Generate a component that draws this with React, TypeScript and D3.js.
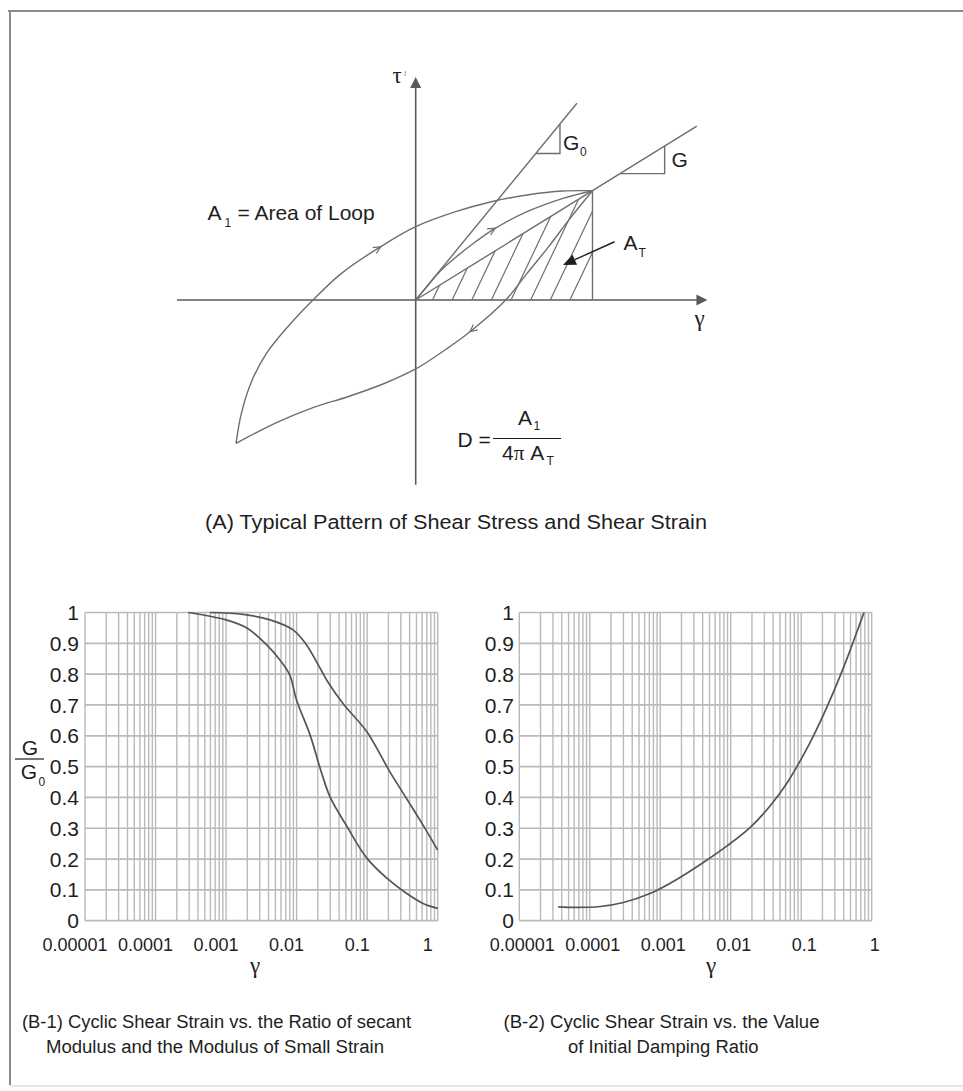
import React from 'react';
import * as d3 from 'd3';

type Pt = [number, number];

// ---------- (A) stress–strain loop, normalised so the reversal point is (1, 1)
const loopUpperBranch: Pt[] = [
  [-1.016, -1.311], [-0.986, -1.037], [-0.925, -0.732], [-0.844, -0.488],
  [-0.723, -0.244], [-0.581, 0], [-0.42, 0.244], [-0.198, 0.488],
  [0, 0.671], [0.226, 0.808], [0.428, 0.899], [0.63, 0.961], [0.833, 0.997], [1, 1],
];
const loopLowerBranch: Pt[] = [
  [1, 1], [0.873, 0.747], [0.752, 0.488], [0.63, 0.244], [0.509, 0],
  [0.307, -0.29], [0.145, -0.48], [0, -0.631], [-0.178, -0.764],
  [-0.38, -0.883], [-0.581, -0.985], [-0.784, -1.12], [-1.016, -1.311],
];
const initialLoading: Pt[] = [
  [0, 0], [0.064, 0.122], [0.145, 0.274], [0.327, 0.519], [0.449, 0.656],
  [0.63, 0.808], [0.833, 0.93], [1, 1],
];
const tangentG0: Pt[] = [[0, 0], [0.912, 1.8]];
const secantG: Pt[] = [[0, 0], [1.59, 1.59]];
const slopeTriangleG0: Pt[] = [[0.68, 1.34], [0.816, 1.34], [0.816, 1.607]];
const slopeTriangleG: Pt[] = [[1.156, 1.156], [1.408, 1.156], [1.408, 1.408]];
const peakDrop: Pt[] = [[1, 1], [1, 0]];
const triangleAT: Pt[] = [[0, 0], [1, 1], [1, 0]];
const hatchBases = [0.095, 0.206, 0.317, 0.428, 0.539, 0.65, 0.761, 0.872];
const hatchSlope = 3.4;
const gammaAxisExtent: Pt = [-1.35, 1.65];
const tauAxisExtent: Pt = [-1.69, 2.04];
const pointerAT: Pt[] = [[1.125, 0.533], [0.833, 0.32]];

// ---------- (B) cyclic shear strain curves
const strainDecades = [0.00001, 0.0001, 0.001, 0.01, 0.1, 1];
const strainLabels = ['0.00001', '0.0001', '0.001', '0.01', '0.1', '1'];
const ratioTicks = [0, 0.1, 0.2, 0.3, 0.4, 0.5, 0.6, 0.7, 0.8, 0.9, 1];
const ratioLabels = ['0', '0.1', '0.2', '0.3', '0.4', '0.5', '0.6', '0.7', '0.8', '0.9', '1'];

const modulusRatioUpper: Pt[] = [
  [0.00059, 1.0], [0.00175, 0.994], [0.0042, 0.976], [0.009, 0.943], [0.0139, 0.894],
  [0.0192, 0.84], [0.0282, 0.772], [0.046, 0.703], [0.099, 0.613], [0.21, 0.483],
  [0.36, 0.397], [0.62, 0.31], [1.0, 0.229],
];
const modulusRatioLower: Pt[] = [
  [0.00029, 1.0], [0.001, 0.976], [0.002, 0.949], [0.0038, 0.894], [0.0058, 0.846],
  [0.008, 0.797], [0.01, 0.715], [0.0155, 0.603], [0.0227, 0.478], [0.03, 0.4],
  [0.051, 0.308], [0.099, 0.203], [0.19, 0.138], [0.36, 0.089], [0.62, 0.056], [1.0, 0.04],
];
const dampingRatio: Pt[] = [
  [0.0000357, 0.045], [0.000065, 0.043], [0.00014, 0.046], [0.0003, 0.059], [0.000714, 0.088],
  [0.00171, 0.134], [0.00408, 0.189], [0.00877, 0.242], [0.01875, 0.302], [0.0361, 0.372],
  [0.0622, 0.445], [0.1334, 0.578], [0.2056, 0.667], [0.3184, 0.767], [0.4415, 0.848],
  [0.612, 0.935], [0.778, 1.0],
];

const SANS = "'Liberation Sans', Arial, Helvetica, sans-serif";
const SERIF = "'Liberation Serif', 'DejaVu Serif', 'Times New Roman', serif";
const INK = '#1e1e1e';
const LINE = '#6e6e6e';
const AXIS = '#5a5a5a';
const GRID = '#bababa';

function chevron(pts: Pt[], i: number, px: (p: Pt) => Pt): string {
  const [x, y] = px(pts[i]);
  const [x0, y0] = px(pts[i - 1]);
  const [x1, y1] = px(pts[i + 1]);
  const a = Math.atan2(y1 - y0, x1 - x0);
  const len = 8;
  const spread = 0.45;
  const p1 = [x - len * Math.cos(a - spread), y - len * Math.sin(a - spread)];
  const p2 = [x - len * Math.cos(a + spread), y - len * Math.sin(a + spread)];
  return `M${p1[0]},${p1[1]}L${x},${y}L${p2[0]},${p2[1]}`;
}

function LoopDiagram() {
  const xA = d3.scaleLinear().domain([0, 1]).range([415.7, 592.5]);
  const yA = d3.scaleLinear().domain([0, 1]).range([300, 190.7]);
  const px = (p: Pt): Pt => [xA(p[0]), yA(p[1])];
  const smooth = d3.line<Pt>().x(d => xA(d[0])).y(d => yA(d[1])).curve(d3.curveCatmullRom.alpha(0.5));
  const straight = d3.line<Pt>().x(d => xA(d[0])).y(d => yA(d[1]));

  const gx0 = xA(gammaAxisExtent[0]);
  const gx1 = xA(gammaAxisExtent[1]);
  const ty0 = yA(tauAxisExtent[0]);
  const ty1 = yA(tauAxisExtent[1]);
  const ox = xA(0);
  const oy = yA(0);

  const [ptx, pty] = px(pointerAT[1]);
  const [psx, psy] = px(pointerAT[0]);
  const pa = Math.atan2(pty - psy, ptx - psx);
  const headLen = 13;
  const headW = 5.5;
  const bx = ptx - headLen * Math.cos(pa);
  const by = pty - headLen * Math.sin(pa);
  const head = `M${ptx},${pty}L${bx + headW * Math.sin(pa)},${by - headW * Math.cos(pa)}L${bx - headW * Math.sin(pa)},${by + headW * Math.cos(pa)}Z`;

  return (
    <g>
      <defs>
        <clipPath id="at-clip">
          <path d={straight(triangleAT) + 'Z'} />
        </clipPath>
      </defs>
      {/* axes */}
      <line x1={gx0} y1={oy} x2={gx1 - 8} y2={oy} stroke={AXIS} strokeWidth={1.6} />
      <path d={`M${gx1},${oy}L${gx1 - 11},${oy - 5.5}L${gx1 - 11},${oy + 5.5}Z`} fill={AXIS} />
      <line x1={ox} y1={ty0} x2={ox} y2={ty1 + 8} stroke={AXIS} strokeWidth={1.6} />
      <path d={`M${ox},${ty1}L${ox - 5.5},${ty1 + 11}L${ox + 5.5},${ty1 + 11}Z`} fill={AXIS} />

      {/* hatched triangle under the secant */}
      <g clipPath="url(#at-clip)">
        {hatchBases.map((b, i) => (
          <path key={i} d={straight([[b, 0], [b + 1.3 / hatchSlope, 1.3]])} stroke={LINE} strokeWidth={1.2} fill="none" />
        ))}
      </g>
      <path d={straight(peakDrop)} stroke={LINE} strokeWidth={1.4} fill="none" />

      {/* moduli */}
      <path d={straight(tangentG0)} stroke={LINE} strokeWidth={1.4} fill="none" />
      <path d={straight(secantG)} stroke={LINE} strokeWidth={1.4} fill="none" />
      <path d={straight(slopeTriangleG0)} stroke={LINE} strokeWidth={1.4} fill="none" />
      <path d={straight(slopeTriangleG)} stroke={LINE} strokeWidth={1.4} fill="none" />

      {/* loop */}
      <path d={smooth(loopUpperBranch) || ''} stroke={LINE} strokeWidth={1.4} fill="none" />
      <path d={smooth(loopLowerBranch) || ''} stroke={LINE} strokeWidth={1.4} fill="none" />
      <path d={smooth(initialLoading) || ''} stroke={LINE} strokeWidth={1.4} fill="none" />
      <path d={chevron(loopUpperBranch, 7, px)} stroke={LINE} strokeWidth={1.2} fill="none" />
      <path d={chevron(initialLoading, 4, px)} stroke={LINE} strokeWidth={1.2} fill="none" />
      <path d={chevron(loopLowerBranch, 5, px)} stroke={LINE} strokeWidth={1.2} fill="none" />

      {/* A_T pointer */}
      <line x1={psx} y1={psy} x2={bx} y2={by} stroke={INK} strokeWidth={1.4} />
      <path d={head} fill={INK} />

      {/* labels */}
      <g fill={INK} fontFamily={SANS} fontSize={21}>
        <text x={392.5} y={83} fontFamily={SERIF} fontSize={23}>τ</text>
        <line x1={405.5} y1={71} x2={405} y2={76} stroke="#999" strokeWidth={1} />
        <text x={694.5} y={326} fontFamily={SERIF} fontSize={23}>γ</text>
        <text x={207.5} y={220}>A</text>
        <text x={224.5} y={226.5} fontSize={12}>1</text>
        <text x={237.5} y={220}>= Area of Loop</text>
        <text x={563} y={150}>G</text>
        <text x={580} y={155.5} fontSize={12}>0</text>
        <text x={671.5} y={166.5}>G</text>
        <text x={623.5} y={250}>A</text>
        <text x={638.5} y={257} fontSize={12}>T</text>
        <text x={457.5} y={446.5}>D =</text>
        <text x={518} y={425}>A</text>
        <text x={533.5} y={430} fontSize={12}>1</text>
        <text x={502} y={460}>4<tspan fontFamily={SERIF}>π</tspan> A</text>
        <text x={546.5} y={465} fontSize={12}>T</text>
      </g>
      <line x1={493} y1={438.5} x2={561} y2={438.5} stroke={INK} strokeWidth={1.2} />
      <text x={205} y={529} fill={INK} fontFamily={SANS} fontSize={20.5} textLength={502} lengthAdjust="spacingAndGlyphs">
        (A) Typical Pattern of Shear Stress and Shear Strain
      </text>
    </g>
  );
}

interface ChartProps {
  left: number;
  right: number;
  top: number;
  bottom: number;
  series: Pt[][];
  labelShift: number;
  yLabelRight: number;
  titleX: number;
}

function LogChart({ left, right, top, bottom, series, labelShift, yLabelRight, titleX }: ChartProps) {
  const x = d3.scaleLog().domain([1e-5, 1]).range([left, right]);
  const y = d3.scaleLinear().domain([0, 1]).range([bottom, top]);
  const line = d3.line<Pt>().x(d => x(d[0])).y(d => y(d[1])).curve(d3.curveCatmullRom.alpha(0.5));
  const verticals = x.ticks();
  return (
    <g>
      {verticals.map((v, i) => (
        <line key={`v${i}`} x1={x(v)} x2={x(v)} y1={top} y2={bottom} stroke={GRID} strokeWidth={1.4} />
      ))}
      {ratioTicks.map((t, i) => (
        <line key={`h${i}`} x1={left} x2={right} y1={y(t)} y2={y(t)} stroke={GRID} strokeWidth={1.7} />
      ))}
      {series.map((s, i) => (
        <path key={`s${i}`} d={line(s) || ''} fill="none" stroke="#555" strokeWidth={1.7} />
      ))}
      <g fill={INK} fontFamily={SANS}>
        {ratioTicks.map((t, i) => (
          <text key={`yl${i}`} x={yLabelRight} y={y(t)} dy="0.36em" textAnchor="end" fontSize={21}>
            {ratioLabels[i]}
          </text>
        ))}
        {strainDecades.map((d, i) => (
          <text key={`xl${i}`} x={x(d) + labelShift} y={951} textAnchor="middle" fontSize={18}>
            {strainLabels[i]}
          </text>
        ))}
        <text x={titleX} y={973} textAnchor="middle" fontFamily={SERIF} fontSize={23}>γ</text>
      </g>
    </g>
  );
}

export default function App() {
  return (
    <svg
      width={963}
      height={1091}
      viewBox="0 0 963 1091"
      style={{ position: 'absolute', left: 0, top: 0, background: '#fff' }}
    >
      <rect x={0} y={0} width={963} height={1091} fill="#fff" />
      {/* page frame */}
      <line x1={8} y1={11} x2={963} y2={11} stroke="#8a8a8a" strokeWidth={2} />
      <line x1={10} y1={10} x2={10} y2={1085} stroke="#8a8a8a" strokeWidth={2} />
      <line x1={10} y1={1086} x2={963} y2={1086} stroke="#e6e6e6" strokeWidth={2} />

      <LoopDiagram />

      <LogChart
        left={85}
        right={437.7}
        top={612.5}
        bottom={920.7}
        series={[modulusRatioUpper, modulusRatioLower]}
        labelShift={-10}
        yLabelRight={79}
        titleX={255}
      />
      <LogChart
        left={519.3}
        right={871.7}
        top={612.5}
        bottom={920.7}
        series={[dampingRatio]}
        labelShift={3}
        yLabelRight={514}
        titleX={711}
      />

      {/* G / G0 ordinate label */}
      <g fill={INK} fontFamily={SANS} fontSize={21}>
        <text x={30} y={755} textAnchor="middle">G</text>
        <text x={29} y={778.5} textAnchor="middle">G</text>
        <text x={38.5} y={786} fontSize={12}>0</text>
      </g>
      <line x1={15} y1={759} x2={44} y2={759} stroke={INK} strokeWidth={1.2} />

      {/* captions */}
      <g fill={INK} fontFamily={SANS} fontSize={18}>
        <text x={22} y={1028} textLength={389} lengthAdjust="spacingAndGlyphs">
          (B-1) Cyclic Shear Strain vs. the Ratio of secant
        </text>
        <text x={46} y={1053} textLength={338} lengthAdjust="spacingAndGlyphs">
          Modulus and the Modulus of Small Strain
        </text>
        <text x={503.5} y={1028} textLength={316} lengthAdjust="spacingAndGlyphs">
          (B-2) Cyclic Shear Strain vs. the Value
        </text>
        <text x={568} y={1053} textLength={190.5} lengthAdjust="spacingAndGlyphs">
          of Initial Damping Ratio
        </text>
      </g>
    </svg>
  );
}
